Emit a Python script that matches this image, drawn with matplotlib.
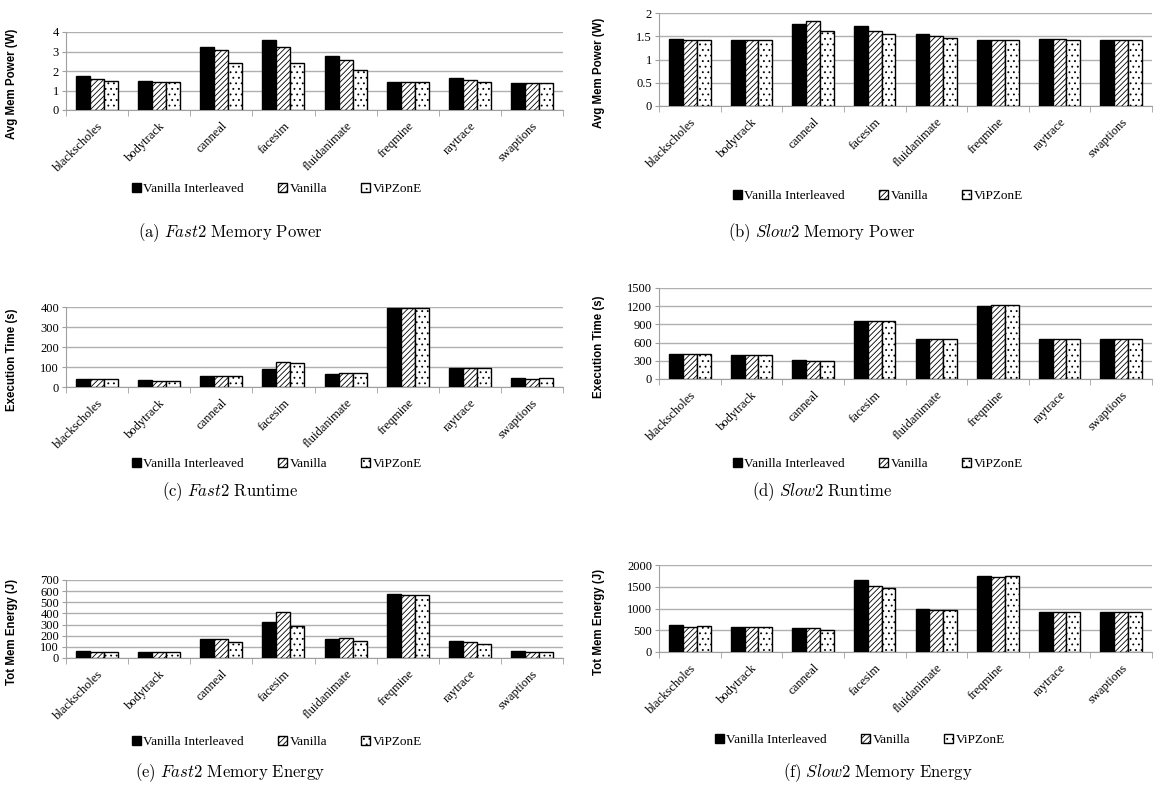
import matplotlib.pyplot as plt
from matplotlib.ticker import FormatStrFormatter
import numpy as np

plt.rcParams['hatch.linewidth'] = 0.6
plt.rcParams['mathtext.fontset'] = 'cm'

benchmarks = ['blackscholes', 'bodytrack', 'canneal', 'facesim',
              'fluidanimate', 'freqmine', 'raytrace', 'swaptions']
series = ['Vanilla Interleaved', 'Vanilla', 'ViPZonE']

# Fast2 memory power (W)
fast_power_vi = [1.73, 1.50, 3.23, 3.57, 2.78, 1.45, 1.62, 1.40]
fast_power_v = [1.57, 1.43, 3.10, 3.22, 2.56, 1.45, 1.55, 1.40]
fast_power_z = [1.50, 1.43, 2.43, 2.43, 2.05, 1.45, 1.45, 1.40]

# Slow2 memory power (W)
slow_power_vi = [1.45, 1.42, 1.77, 1.72, 1.55, 1.42, 1.45, 1.42]
slow_power_v = [1.42, 1.42, 1.83, 1.61, 1.50, 1.42, 1.44, 1.42]
slow_power_z = [1.42, 1.42, 1.61, 1.54, 1.47, 1.42, 1.42, 1.42]

# Fast2 runtime (s)
fast_time_vi = [40, 33, 57, 90, 63, 395, 95, 45]
fast_time_v = [38, 32, 56, 125, 72, 395, 93, 38]
fast_time_z = [38, 32, 57, 120, 72, 395, 93, 43]

# Slow2 runtime (s)
slow_time_vi = [415, 400, 305, 950, 660, 1210, 660, 660]
slow_time_v = [410, 395, 300, 950, 660, 1225, 660, 660]
slow_time_z = [410, 395, 300, 950, 660, 1225, 660, 660]

# Fast2 memory energy (J)
fast_energy_vi = [65, 52, 170, 320, 172, 575, 155, 62]
fast_energy_v = [50, 50, 170, 410, 180, 565, 140, 50]
fast_energy_z = [50, 50, 140, 290, 150, 565, 130, 50]

# Slow2 memory energy (J)
slow_energy_vi = [610, 580, 550, 1650, 985, 1750, 930, 930]
slow_energy_v = [575, 580, 545, 1520, 960, 1730, 930, 910]
slow_energy_z = [605, 580, 500, 1470, 960, 1750, 930, 930]

W, H = 1156, 793
SERIF = 'Liberation Serif'
fig = plt.figure(figsize=(W / 100, H / 100), dpi=100)


def px_axes(x0, y0, x1, y1):
    return fig.add_axes([x0 / W, 1 - y1 / H, (x1 - x0) / W, (y1 - y0) / H])


def panel(rect, data, ylabel, ymax, ystep, ylab_x, legend_xy, caption, caption_xy):
    ax = px_axes(*rect)
    x = np.arange(len(benchmarks))
    w = 0.225
    styles = [dict(color='black', edgecolor='black'),
              dict(color='white', edgecolor='black', hatch='//////'),
              dict(color='white', edgecolor='black', hatch='...')]
    handles = []
    for i, (vals, st) in enumerate(zip(data, styles)):
        b = ax.bar(x + (i - 1) * w, vals, w, linewidth=1.0, label=series[i],
                   zorder=3, **st)
        handles.append(b)
    ax.set_xlim(-0.5, len(benchmarks) - 0.5)
    ax.set_ylim(0, ymax)
    ax.set_yticks(np.arange(0, ymax + ystep / 2, ystep))
    ax.yaxis.set_major_formatter(FormatStrFormatter('%g'))
    ax.yaxis.grid(True, color='#b0b0b0', linewidth=1.0, zorder=0)
    ax.set_axisbelow(True)
    for s in ['top', 'right']:
        ax.spines[s].set_visible(False)
    ax.spines['left'].set_color('#a0a0a0')
    ax.spines['bottom'].set_color('#a0a0a0')
    ax.set_xticks(x)
    ax.set_xticklabels(benchmarks, rotation=45, ha='right',
                       rotation_mode='anchor', family=SERIF, fontsize=9)
    ax.set_xticks(np.arange(-0.5, len(benchmarks)), minor=True)
    ax.tick_params(axis='x', which='major', length=0, pad=7)
    ax.tick_params(axis='x', which='minor', length=4, color='#a0a0a0')
    ax.tick_params(axis='y', length=3, color='#a0a0a0', pad=2)
    for lab in ax.get_yticklabels():
        lab.set_family(SERIF)
        lab.set_fontsize(9)
    hpx = rect[3] - rect[1]
    ax.set_ylabel(ylabel, family='Liberation Sans', fontweight='bold',
                  fontsize=8.3)
    ax.yaxis.set_label_coords((ylab_x - rect[0]) / (rect[2] - rect[0]),
                              0.5 - 13 / hpx)
    fig.legend(handles=handles, loc='center',
               bbox_to_anchor=(legend_xy[0] / W, 1 - legend_xy[1] / H),
               ncol=3, frameon=False, handlelength=0.65, handleheight=0.65,
               handletextpad=0.2, columnspacing=2.6,
               prop={'family': SERIF, 'size': 9.5})
    fig.text(caption_xy[0] / W, 1 - caption_xy[1] / H, caption,
             ha='center', va='center', fontsize=12)
    return ax


panel((66, 32, 563, 110), [fast_power_vi, fast_power_v, fast_power_z],
      'Avg Mem Power (W)', 4, 1, 18, (277, 189),
      r'$\mathrm{(a)}\ \mathit{Fast2}\ \mathrm{Memory\ Power}$', (230, 233))
panel((659, 13, 1152, 106), [slow_power_vi, slow_power_v, slow_power_z],
      'Avg Mem Power (W)', 2, 0.5, 605, (878, 196),
      r'$\mathrm{(b)}\ \mathit{Slow2}\ \mathrm{Memory\ Power}$', (822, 233))
panel((66, 307, 563, 387), [fast_time_vi, fast_time_v, fast_time_z],
      'Execution Time (s)', 400, 100, 18, (277, 464),
      r'$\mathrm{(c)}\ \mathit{Fast2}\ \mathrm{Runtime}$', (230, 492))
panel((659, 288, 1152, 379), [slow_time_vi, slow_time_v, slow_time_z],
      'Execution Time (s)', 1500, 300, 605, (878, 464),
      r'$\mathrm{(d)}\ \mathit{Slow2}\ \mathrm{Runtime}$', (822, 492))
panel((66, 580, 563, 658), [fast_energy_vi, fast_energy_v, fast_energy_z],
      'Tot Mem Energy (J)', 700, 100, 18, (277, 742),
      r'$\mathrm{(e)}\ \mathit{Fast2}\ \mathrm{Memory\ Energy}$', (230, 773))
panel((659, 565, 1152, 652), [slow_energy_vi, slow_energy_v, slow_energy_z],
      'Tot Mem Energy (J)', 2000, 500, 605, (860, 740),
      r'$\mathrm{(f)}\ \mathit{Slow2}\ \mathrm{Memory\ Energy}$', (878, 773))

fig.savefig('out.png', dpi=100)
